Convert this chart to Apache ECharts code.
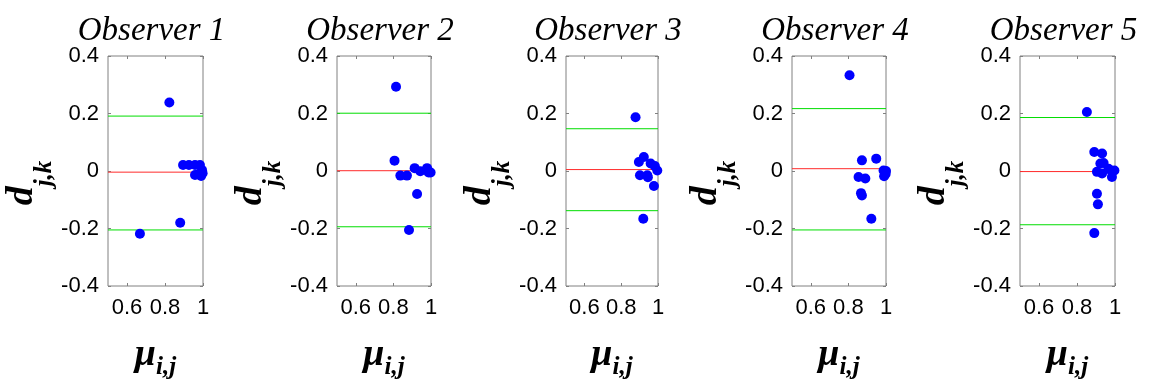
<!DOCTYPE html>
<html>
<head>
<meta charset="utf-8">
<script src="https://cdn.jsdelivr.net/npm/echarts@6/dist/echarts.min.js"></script>
<style>
  html, body { margin: 0; padding: 0; background: #fff; }
  #chart { width: 1154px; height: 387px; }
</style>
</head>
<body>
<div id="chart"></div>
<script>
// panel titles
const titles = ["Observer 1", "Observer 2", "Observer 3", "Observer 4", "Observer 5"];

// [mu_ij, d_jk] pairs per observer
const obs1 = [[0.668, -0.218], [0.823, 0.238], [0.880, -0.180], [0.895, 0.021], [0.926, 0.021], [0.958, 0.021],
  [0.984, 0.021], [0.995, 0.003], [0.979, -0.010], [0.958, -0.014], [0.990, -0.017], [0.998, -0.008]];
const obs2 = [[0.814, 0.293], [0.806, 0.036], [0.837, -0.016], [0.872, -0.016], [0.913, 0.010], [0.926, -0.080],
  [0.883, -0.205], [0.943, -0.001], [0.979, 0.010], [0.987, -0.005], [0.998, -0.005]];
const obs3 = [[0.878, 0.187], [0.896, 0.031], [0.923, 0.049], [0.960, 0.026], [0.983, 0.017], [0.996, 0.002],
  [0.902, -0.015], [0.942, -0.015], [0.945, -0.022], [0.978, -0.052], [0.920, -0.166]];
const obs4 = [[0.806, 0.333], [0.872, 0.037], [0.948, 0.043], [0.854, -0.021], [0.890, -0.026], [0.867, -0.077],
  [0.872, -0.085], [0.922, -0.166], [0.987, 0.002], [0.998, -0.010], [0.990, -0.018], [1.0, 0.0]];
const obs5 = [[0.852, 0.205], [0.891, 0.066], [0.932, 0.061], [0.923, 0.026], [0.940, 0.028], [0.905, -0.003],
  [0.932, -0.009], [0.966, 0.008], [0.984, -0.003], [0.984, -0.021], [0.997, 0.002], [0.905, -0.079],
  [0.910, -0.116], [0.891, -0.216]];

// reference lines: upper limit, mean, lower limit
const upperLimits = [0.191, 0.201, 0.147, 0.217, 0.186];
const meanLines = [-0.004, 0.001, 0.005, 0.008, -0.002];
const lowerLimits = [-0.205, -0.194, -0.138, -0.205, -0.187];

// x axis range and ticks
const xMin = 0.5, xMax = 1;
const xTicks = [0.6, 0.8, 1];

const allObs = [obs1, obs2, obs3, obs4, obs5];

// layout of the five panels (px)
const panelLeft = [108, 337, 566, 792, 1020];
const panelWidth = [95, 94, 92, 94, 95];
const panelTop = 56;
const panelHeight = 230;

const boxColor = "#808080";
const limitColor = "#00dd00";
const meanColor = "#ff2a2a";
const serif = "'Liberation Serif', 'DejaVu Serif', serif";
const sans = "'Liberation Sans', Arial, sans-serif";

const grid = [], xAxis = [], yAxis = [], series = [], title = [];

// horizontal reference line spanning the full x range
const hLine = (i, value, color) => ({
  type: "line",
  xAxisIndex: i * 2,
  yAxisIndex: i * 2,
  data: [[xMin, value], [xMax, value]],
  showSymbol: false,
  symbol: "none",
  silent: true,
  z: 1,
  lineStyle: { color: color, width: 1, type: "solid" }
});

allObs.forEach((data, i) => {
  grid.push({
    left: panelLeft[i], top: panelTop, width: panelWidth[i], height: panelHeight,
    outerBoundsMode: "none",
    containLabel: false,
    show: true, borderColor: boxColor, borderWidth: 1, backgroundColor: "transparent"
  });

  title.push({
    text: titles[i],
    left: panelLeft[i] + panelWidth[i] / 2 - 9,
    top: 10,
    textAlign: "center",
    textStyle: { fontFamily: serif, fontStyle: "italic", fontWeight: "normal", fontSize: 33, color: "#000" }
  });

  // bottom x axis with labels and name
  xAxis.push({
    gridIndex: i, type: "value", min: xMin, max: xMax, position: "bottom",
    axisLine: { show: false, onZero: false },
    axisTick: { show: true, inside: true, length: 3, lineStyle: { color: boxColor }, customValues: xTicks },
    axisLabel: { color: "#000", fontSize: 22, fontFamily: sans, margin: 11, customValues: xTicks },
    splitLine: { show: false },
    name: "{m|μ}{s|i,j}",
    nameLocation: "middle",
    nameGap: 50,
    nameTextStyle: {
      rich: {
        m: { fontFamily: serif, fontStyle: "italic", fontWeight: "bold", fontSize: 38, color: "#000",
          verticalAlign: "bottom", padding: [0, 0, 6, 0] },
        s: { fontFamily: serif, fontStyle: "italic", fontWeight: "bold", fontSize: 25, color: "#000",
          verticalAlign: "bottom" }
      }
    }
  });
  // top x axis: ticks only
  xAxis.push({
    gridIndex: i, type: "value", min: xMin, max: xMax, position: "top",
    axisLine: { show: false, onZero: false },
    axisTick: { show: true, inside: true, length: 3, lineStyle: { color: boxColor }, customValues: xTicks },
    axisLabel: { show: false },
    splitLine: { show: false }
  });

  yAxis.push({
    gridIndex: i, type: "value", min: -0.4, max: 0.4, interval: 0.2, position: "left",
    axisLine: { show: false, onZero: false },
    axisTick: { show: true, inside: true, length: 3, lineStyle: { color: boxColor } },
    axisLabel: { color: "#000", fontSize: 22, fontFamily: sans, margin: 9 },
    splitLine: { show: false },
    name: "{m|d}{s|j,k}",
    nameLocation: "middle",
    nameRotate: 90,
    nameGap: 51,
    nameTextStyle: {
      padding: [0, 24, 0, 0],
      rich: {
        m: { fontFamily: serif, fontStyle: "italic", fontWeight: "bold", fontSize: 38, color: "#000",
          verticalAlign: "bottom", padding: [0, 0, 16, 0] },
        s: { fontFamily: serif, fontStyle: "italic", fontWeight: "bold", fontSize: 25, color: "#000",
          verticalAlign: "bottom" }
      }
    }
  });
  yAxis.push({
    gridIndex: i, type: "value", min: -0.4, max: 0.4, interval: 0.2, position: "right",
    axisLine: { show: false, onZero: false },
    axisTick: { show: true, inside: true, length: 3, lineStyle: { color: boxColor } },
    axisLabel: { show: false },
    splitLine: { show: false }
  });

  series.push(hLine(i, upperLimits[i], limitColor));
  series.push(hLine(i, meanLines[i], meanColor));
  series.push(hLine(i, lowerLimits[i], limitColor));

  series.push({
    type: "scatter",
    xAxisIndex: i * 2,
    yAxisIndex: i * 2,
    data: data,
    symbolSize: 10,
    z: 3,
    itemStyle: { color: "#0000ff", opacity: 1 }
  });
});

const chart = echarts.init(document.getElementById("chart"));
chart.setOption({
  animation: false,
  backgroundColor: "#fff",
  title, grid, xAxis, yAxis, series
});
</script>
</body>
</html>
